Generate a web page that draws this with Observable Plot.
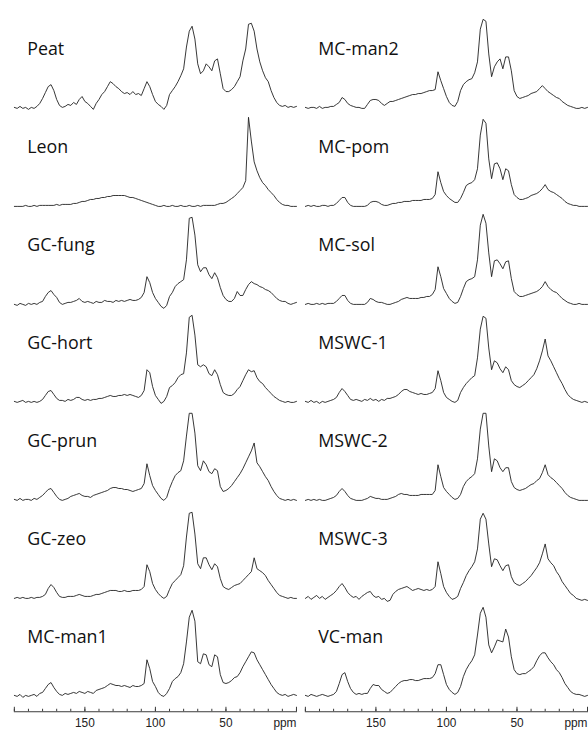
<!DOCTYPE html>
<html><head><meta charset="utf-8">
<script src="https://cdn.jsdelivr.net/npm/d3@7"></script>
<script src="https://cdn.jsdelivr.net/npm/@observablehq/plot@0.6"></script>
<style>
html,body{margin:0;padding:0;background:#fff;overflow:hidden;}
#chart{width:588px;height:730px;overflow:hidden;}
</style></head><body><div id="chart"></div>
<script>
// chemical shift grid (ppm), 200 -> 0 in 2 ppm steps
const ppm = d3.range(200, -1, -2);

const leftSamples = ["Peat", "Leon", "GC-fung", "GC-hort", "GC-prun", "GC-zeo", "MC-man1"];
const rightSamples = ["MC-man2", "MC-pom", "MC-sol", "MSWC-1", "MSWC-2", "MSWC-3", "VC-man"];

// intensities (relative), one value per ppm grid point
const peat = [1,0,2,0,1,-1,1,0,2,5, 10,16,22,24,18,9,3,1,2,4, 3,6,4,9,12,7,5,2,-1,5, 9,14,17,22,27,25,22,20,17,15, 16,14,17,14,15,13,20,27,22,14, 7,4,2,-1,3,14,18,22,27,33, 40,62,78,83,70,45,35,38,45,42, 38,48,50,35,20,17,17,19,22,27, 32,48,60,85,86,78,60,47,38,31, 27,18,11,6,3,2,3,1,2,1, 2];
const leon = [0,0,0,0,1,0,0,1,0,1, 1,1,1,1,1,2,1,2,2,2, 2,3,3,4,5,5,6,7,7,8, 8,9,9,10,10,11,11,11,11,11, 10,9,9,8,7,6,5,4,3,2, 1,0,0,1,0,0,1,0,0,1, 0,0,1,0,0,1,0,1,1,1, 1,1,2,3,3,4,6,8,10,13, 16,19,26,90,66,45,36,29,24,21, 17,14,11,7,4,2,1,1,0,0, 0];
const gcFung = [0,-1,1,0,-1,1,0,1,0,2, 3,8,12,14,10,7,2,0,1,2, 2,3,4,6,3,2,3,2,1,3, 2,2,4,3,3,2,4,3,4,3, 4,5,4,4,5,7,12,28,22,12, 6,2,-2,-4,-1,8,12,18,21,23, 25,45,87,88,70,40,33,37,37,30, 26,32,27,17,9,5,3,3,6,13, 9,9,15,20,23,21,20,18,17,15, 14,12,9,6,4,3,3,1,0,1, 2];
const gcHort = [1,0,1,2,0,1,0,1,0,1, 3,7,11,12,8,4,2,2,1,3, 2,3,5,5,3,2,3,2,3,3, 4,4,5,6,7,6,6,7,7,8, 7,8,7,6,5,7,12,33,30,16, 7,3,-1,1,6,15,17,20,25,28, 29,50,86,88,68,38,36,38,36,29, 27,33,28,18,10,8,7,7,9,13, 16,22,28,33,31,32,25,21,19,15, 12,9,6,4,2,1,0,1,0,0, 1];
const gcPrun = [1,0,2,0,1,1,0,2,1,3, 5,8,11,12,8,4,1,0,1,2, 4,5,6,7,5,4,4,3,5,6, 7,8,9,10,12,13,13,12,12,11, 11,10,9,10,11,12,17,37,25,15, 10,6,2,0,3,12,19,25,28,30, 40,65,88,88,68,35,30,40,36,29, 27,32,30,14,9,10,12,15,19,23, 27,32,38,44,50,58,38,34,29,24, 20,14,9,5,2,1,0,1,0,1, 0];
const gcZeo = [0,1,0,1,0,0,1,0,1,1, 2,4,10,14,11,6,2,1,1,2, 2,2,3,4,3,2,2,2,3,4, 4,5,6,7,8,8,8,7,7,8, 7,7,8,8,8,9,12,34,27,15, 9,5,2,0,2,9,15,18,21,24, 33,62,86,87,65,35,30,41,41,34, 29,35,32,20,12,10,9,11,13,14, 15,18,21,24,27,41,30,28,26,23, 18,14,10,6,3,2,1,0,1,0, 0];
const mcMan1 = [1,0,2,-1,1,0,1,2,0,3, 4,8,12,14,9,5,2,1,3,2, 3,4,3,5,4,3,5,4,3,6, 7,8,9,11,13,12,11,11,10,11, 10,9,11,10,10,11,13,37,28,15, 10,4,1,0,3,8,15,18,20,24, 33,55,80,87,76,35,33,43,42,32, 30,42,40,22,14,13,14,16,19,20, 24,30,35,40,45,44,37,32,27,22, 17,12,8,4,2,1,2,0,1,2, 1];
const mcMan2 = [1,0,1,1,0,2,0,1,1,2, 2,4,6,11,9,5,3,2,1,1, 0,0,4,8,9,9,8,5,3,5, 7,7,8,9,10,11,12,13,14,14, 15,15,16,17,18,18,19,37,28,20, 12,6,3,2,7,18,24,27,29,30, 36,47,80,90,88,55,32,42,47,50, 40,52,52,38,18,12,10,11,12,13, 15,16,17,20,23,20,17,15,13,11, 10,7,5,3,2,1,0,0,1,0, 1];
const mcPom = [0,1,0,1,0,0,1,1,0,1, 1,3,6,9,9,4,1,0,0,0, 0,0,1,4,5,5,4,2,1,1, 2,3,3,4,4,5,5,5,6,6, 6,6,7,7,7,8,12,35,24,15, 11,8,6,4,4,8,14,21,23,24, 27,38,72,88,84,48,28,43,44,38, 27,38,36,22,12,9,7,7,8,9, 11,12,13,15,18,22,17,15,14,12, 10,8,5,3,2,1,1,0,0,0, 0];
const mcSol = [0,1,0,0,1,0,1,0,1,1, 1,3,6,9,9,4,1,0,0,0, 0,0,2,6,5,3,2,2,1,0, 0,1,2,3,5,6,7,6,6,6, 6,7,7,8,8,10,15,38,28,16, 11,6,3,1,2,8,16,23,25,26, 28,45,80,91,82,52,28,44,45,41, 36,43,44,26,13,10,8,8,9,10, 11,12,13,15,18,23,18,15,13,12, 9,6,4,2,1,0,0,1,0,0, 0];
const mswc1 = [1,0,2,0,1,-1,1,0,1,2, 3,5,10,14,11,7,3,2,3,2, 1,3,2,4,2,3,1,3,2,4, 4,5,6,8,11,13,13,11,10,9, 8,9,8,8,9,10,14,32,22,10, 5,3,1,0,2,10,15,19,22,25, 27,45,74,87,85,55,33,42,40,34, 30,36,33,22,18,16,15,17,19,22, 25,28,34,42,52,64,47,42,36,30, 24,19,13,8,5,3,2,1,0,1, 0];
const mswc2 = [0,1,0,1,0,1,0,0,1,2, 3,5,9,12,9,5,2,1,0,0, 0,1,2,4,3,2,2,1,1,1, 2,3,4,6,7,6,6,5,5,5, 5,6,6,6,6,6,10,36,24,13, 9,6,3,1,2,6,14,19,22,24, 27,42,72,88,88,55,29,42,40,33, 29,33,33,19,13,11,10,11,12,14, 16,17,20,22,28,36,26,23,21,18, 15,12,8,5,3,2,1,0,0,0, 0];
const mswc3 = [0,2,-1,1,3,0,2,-1,1,3, 5,8,12,15,11,6,3,1,2,-1, 2,4,6,7,3,1,2,-1,0,-3, -2,4,7,9,10,11,12,10,8,9, 10,9,8,9,8,9,12,37,25,12, 6,2,-1,0,2,10,16,23,28,32, 37,50,80,86,80,55,32,40,39,33, 28,33,34,22,16,14,13,15,17,20, 23,27,31,36,45,55,40,36,33,27, 23,17,13,9,5,3,0,-1,-2,-1, -2];
const vcMan = [1,0,2,1,0,1,2,1,0,1, 2,5,13,22,24,15,8,4,2,3, 2,3,3,8,12,11,11,7,5,3, 4,7,10,13,15,16,16,17,17,16, 16,17,18,18,18,19,23,32,32,22, 12,7,4,2,4,10,20,27,32,36, 42,62,84,90,80,52,44,50,57,56, 55,68,60,40,27,23,22,23,23,25, 27,30,36,41,44,44,39,35,32,27, 24,19,13,9,5,3,2,2,1,0, 1];

// axis ticks
const minorTicks = [200,190,180,170,160,150,140,130,120,110,100,90,80,70,60,50,40,30,20,10,0];
const majorTicks = [200,150,100,50,0];
const labelTicks = [150,100,50];
const axisUnit = "ppm";

const spectra = new Map([
  ["Peat", peat], ["Leon", leon], ["GC-fung", gcFung], ["GC-hort", gcHort],
  ["GC-prun", gcPrun], ["GC-zeo", gcZeo], ["MC-man1", mcMan1],
  ["MC-man2", mcMan2], ["MC-pom", mcPom], ["MC-sol", mcSol], ["MSWC-1", mswc1],
  ["MSWC-2", mswc2], ["MSWC-3", mswc3], ["VC-man", vcMan]
]);

const rows = [];
const labels = [];
[leftSamples, rightSamples].forEach((names, col) => {
  names.forEach((name, row) => {
    labels.push({name, col, row});
    spectra.get(name).forEach((v, i) => rows.push({name, col, row, ppm: ppm[i], v}));
  });
});

const axisColor = "#3a3a3a";
const chart = Plot.plot({
  width: 594,
  height: 730,
  marginTop: 18,
  marginBottom: 14,
  marginLeft: 13,
  marginRight: 0,
  x: {domain: [200, 0], label: null},
  y: {domain: [-11, 88], axis: null, label: null},
  fx: {axis: null, paddingInner: 0.0305, paddingOuter: 0},
  fy: {axis: null, padding: 0},
  style: {background: "#fff", overflow: "visible"},
  marks: [
    Plot.line(rows, {x: "ppm", y: "v", z: "name", fx: "col", fy: "row", stroke: "#202020", strokeWidth: 0.9}),
    Plot.text(labels, {fx: "col", fy: "row", text: "name", frameAnchor: "top-left", lineAnchor: "bottom", dx: 13, dy: 34,
      fontSize: 18, fontFamily: "Open Sans", fill: "#111"}),
    Plot.frame({anchor: "bottom", facetAnchor: "bottom", dy: 4.5, stroke: axisColor}),
    Plot.axisX({ticks: minorTicks, tickSize: -2.5, tickFormat: () => "", facetAnchor: "bottom", dy: 4.5, stroke: axisColor, label: null}),
    Plot.axisX({ticks: majorTicks, tickSize: -4.5, tickFormat: () => "", facetAnchor: "bottom", dy: 4.5, stroke: axisColor, label: null}),
    Plot.axisX({ticks: labelTicks, tickSize: 0, tickPadding: 11.5, facetAnchor: "bottom", label: null,
      fontSize: 12, fontFamily: "Liberation Sans", fill: "#222"}),
    Plot.text([axisUnit], {frameAnchor: "bottom-right", facetAnchor: "bottom", lineAnchor: "bottom", dy: 20,
      fontSize: 12, fontFamily: "Liberation Sans", fill: "#222"})
  ]
});
document.getElementById("chart").appendChild(chart);
</script>
</body></html>
